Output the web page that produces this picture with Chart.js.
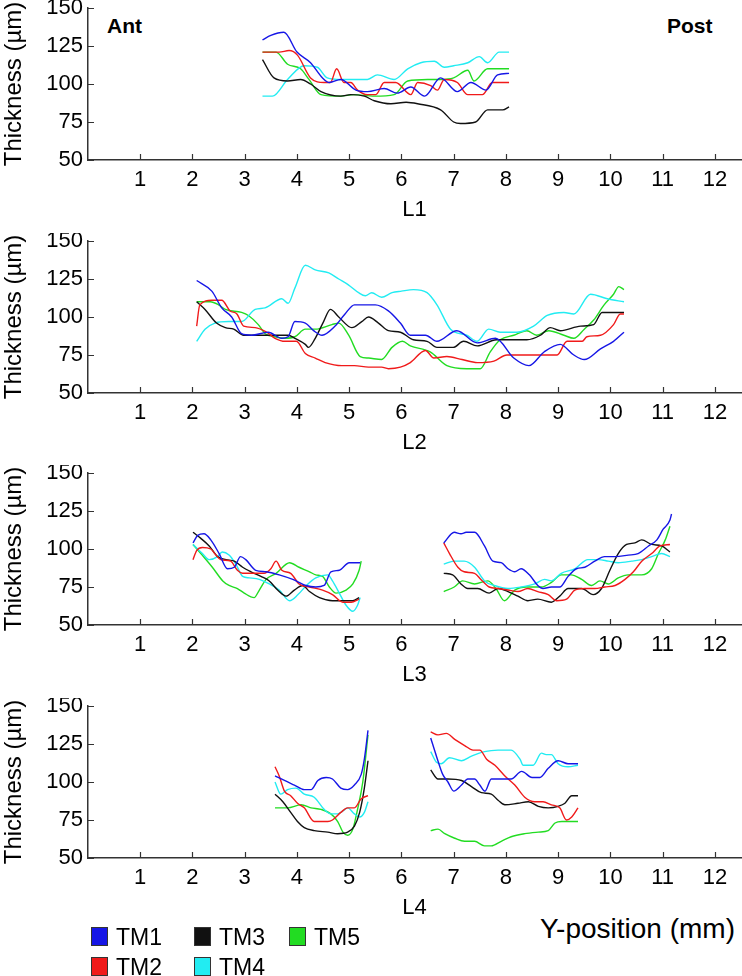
<!DOCTYPE html>
<html>
<head>
<meta charset="utf-8">
<script src="https://cdn.jsdelivr.net/npm/chart.js@4.4.1/dist/chart.umd.min.js"></script>
<style>
  body { margin: 0; background: #fff; font-family: "Liberation Sans", Arial, sans-serif; }
  #wrap { position: relative; width: 742px; height: 976px; overflow: hidden; }
  #wrap canvas { position: absolute; left: 0; }
  .tag { position: absolute; font-weight: bold; font-size: 21px; color: #000; }
  .leg { position: absolute; font-size: 23px; color: #000; line-height: 24px; }
  .leg i { position: absolute; left: 0; top: 2px; width: 15px; height: 17px; border: 1.5px solid #333; }
  .leg span { position: absolute; left: 25px; top: 0; white-space: nowrap; }
  #xtitle { position: absolute; right: 7px; top: 913px; font-size: 28px; color: #000; white-space: nowrap; }
</style>
</head>
<body>
<div id="wrap">
  <div class="tag" style="left:107px;top:14px">Ant</div>
  <div class="tag" style="left:667px;top:14px">Post</div>
  <div id="xtitle">Y-position (mm)</div>
</div>
<script>
const SERIES = ['TM1', 'TM2', 'TM3', 'TM4', 'TM5'];
const COLORS = ['#1616e6', '#f01a1a', '#111111', '#22ecf2', '#22dc22'];
const PANELS = ['L1', 'L2', 'L3', 'L4'];
const X_TICKS = [1, 2, 3, 4, 5, 6, 7, 8, 9, 10, 11, 12];
const Y_TICKS = [50, 75, 100, 125, 150];

// ---- L1 ----
const L1_TM1_x = [3.34, 3.5, 3.75, 4.0, 4.26, 4.49, 4.62, 4.84, 5.13, 5.35, 5.67, 5.92, 6.18, 6.44, 6.75, 7.07, 7.33, 7.62, 7.84, 8.06];
const L1_TM1_y = [129, 132, 134, 121, 114, 104, 101, 103, 96, 95, 97, 94, 98, 92, 104, 95, 101, 96, 106, 107];
const L1_TM2_x = [3.34, 3.66, 3.85, 4.01, 4.26, 4.52, 4.64, 4.76, 4.9, 5.03, 5.16, 5.35, 5.51, 5.67, 5.89, 6.18, 6.31, 6.56, 6.69, 6.82, 7.07, 7.27, 7.55, 7.74, 8.06];
const L1_TM2_y = [121, 121, 122, 119, 104, 101, 101, 110, 101, 101, 96, 93, 93, 101, 101, 93, 101, 99, 96, 103, 101, 93, 93, 101, 101];
const L1_TM3_x = [3.34, 3.56, 3.82, 4.07, 4.26, 4.46, 4.84, 5.03, 5.29, 5.48, 5.8, 6.09, 6.31, 6.75, 7.0, 7.13, 7.42, 7.65, 7.94, 8.06];
const L1_TM3_y = [116, 104, 102, 103, 100, 95, 92, 93, 92, 89, 87, 88, 87, 83, 75, 74, 75, 83, 83, 85];
const L1_TM4_x = [3.34, 3.53, 3.82, 4.14, 4.39, 4.58, 4.84, 5.35, 5.54, 5.86, 6.12, 6.37, 6.63, 6.82, 7.0, 7.27, 7.49, 7.65, 7.87, 8.06];
const L1_TM4_y = [92, 92, 103, 112, 111, 104, 103, 103, 106, 103, 110, 114, 115, 111, 112, 114, 118, 114, 121, 121];
const L1_TM5_x = [3.34, 3.6, 3.82, 4.07, 4.23, 4.46, 4.84, 5.09, 5.48, 5.86, 6.12, 6.5, 6.75, 7.0, 7.27, 7.39, 7.65, 8.06];
const L1_TM5_y = [121, 121, 113, 110, 103, 93, 92, 93, 92, 93, 102, 103, 103, 104, 109, 102, 110, 110];

// ---- L2 ----
const L2_TM1_x = [2.08, 2.37, 2.56, 2.75, 2.94, 3.13, 3.45, 3.71, 3.83, 3.96, 4.16, 4.32, 4.48, 4.73, 4.92, 5.1, 5.5, 5.75, 5.98, 6.17, 6.46, 6.68, 7.06, 7.45, 7.8, 8.15, 8.44, 8.73, 9.04, 9.3, 9.5, 9.81, 10.06, 10.26];
const L2_TM1_y = [124, 117, 106, 100, 89, 88, 90, 86, 87, 97, 96, 91, 88, 94, 102, 108, 108, 104, 96, 88, 88, 84, 91, 83, 86, 73, 68, 77, 82, 75, 72, 79, 84, 90];
const L2_TM2_x = [2.08, 2.14, 2.37, 2.56, 2.72, 2.85, 2.98, 3.2, 3.42, 3.58, 3.77, 3.99, 4.16, 4.35, 4.54, 4.86, 5.1, 5.37, 5.62, 5.75, 5.98, 6.17, 6.46, 6.62, 6.87, 7.16, 7.45, 7.77, 8.02, 8.34, 8.66, 8.98, 9.17, 9.46, 9.55, 9.81, 10.06, 10.19, 10.26];
const L2_TM2_y = [94, 108, 111, 111, 104, 102, 94, 93, 90, 86, 84, 84, 76, 73, 70, 68, 68, 67, 67, 66, 67, 70, 78, 73, 74, 72, 70, 71, 75, 75, 75, 75, 84, 84, 87, 88, 95, 102, 102];
const L2_TM3_x = [2.08, 2.24, 2.46, 2.63, 2.79, 2.98, 3.2, 3.52, 3.83, 3.96, 4.16, 4.22, 4.35, 4.51, 4.64, 4.8, 5.05, 5.24, 5.37, 5.56, 5.75, 5.98, 6.23, 6.49, 6.68, 6.99, 7.19, 7.45, 7.82, 8.07, 8.4, 8.66, 8.85, 9.04, 9.43, 9.68, 9.84, 10.26];
const L2_TM3_y = [110, 105, 96, 93, 92, 88, 88, 88, 88, 86, 82, 80, 86, 97, 105, 100, 93, 97, 100, 96, 91, 90, 85, 84, 80, 80, 84, 81, 85, 85, 85, 88, 93, 91, 94, 95, 103, 103];
const L2_TM4_x = [2.08, 2.24, 2.43, 2.69, 2.94, 3.2, 3.39, 3.71, 3.83, 3.96, 4.16, 4.35, 4.61, 4.8, 4.99, 5.18, 5.31, 5.43, 5.62, 5.82, 6.0, 6.23, 6.49, 6.68, 6.94, 7.25, 7.45, 7.67, 7.89, 8.21, 8.53, 8.79, 9.11, 9.3, 9.62, 9.94, 10.26];
const L2_TM4_y = [84, 92, 96, 97, 97, 105, 106, 112, 109, 119, 134, 131, 129, 125, 121, 116, 114, 116, 113, 116, 117, 118, 116, 108, 92, 88, 84, 92, 90, 90, 94, 101, 103, 102, 115, 112, 110];
const L2_TM5_x = [2.08, 2.34, 2.5, 2.63, 2.94, 3.07, 3.26, 3.39, 3.58, 3.77, 3.96, 4.16, 4.35, 4.67, 4.8, 4.99, 5.21, 5.37, 5.62, 5.82, 6.02, 6.17, 6.55, 6.87, 7.25, 7.51, 7.7, 7.89, 8.15, 8.4, 8.59, 8.82, 9.11, 9.3, 9.5, 9.68, 9.88, 10.06, 10.16, 10.26];
const L2_TM5_y = [110, 110, 108, 105, 103, 101, 95, 89, 87, 86, 87, 92, 92, 95, 96, 88, 74, 73, 72, 80, 84, 81, 77, 68, 66, 66, 77, 85, 88, 91, 88, 91, 88, 86, 92, 98, 108, 115, 120, 118];

// ---- L3 (two segments, null = gap) ----
const L3_TM1_x = [2.01, 2.1, 2.22, 2.35, 2.51, 2.67, 2.8, 2.92, 3.02, 3.21, 3.41, 3.66, 3.92, 4.17, 4.36, 4.52, 4.65, 4.81, 5.0, 5.21, 6.0, 6.81, 7.01, 7.14, 7.24, 7.4, 7.59, 7.75, 7.91, 8.04, 8.17, 8.29, 8.45, 8.61, 8.71, 8.87, 9.03, 9.19, 9.35, 9.51, 9.7, 9.89, 10.09, 10.34, 10.53, 10.73, 10.89, 11.01, 11.14, 11.17];
const L3_TM1_y = [104, 109, 110, 106, 97, 87, 88, 95, 93, 86, 85, 83, 80, 76, 75, 76, 85, 86, 91, 91, null, 104, 111, 110, 111, 111, 102, 92, 91, 87, 85, 87, 83, 76, 74, 75, 75, 82, 87, 88, 92, 95, 95, 96, 97, 102, 106, 113, 119, 123];
const L3_TM2_x = [2.01, 2.08, 2.19, 2.35, 2.45, 2.54, 2.73, 2.86, 2.96, 3.21, 3.37, 3.5, 3.6, 3.71, 3.88, 4.04, 4.24, 4.49, 4.68, 4.88, 5.04, 5.19, 6.0, 6.81, 6.92, 7.08, 7.2, 7.4, 7.52, 7.68, 7.85, 8.04, 8.23, 8.42, 8.61, 8.81, 8.97, 9.16, 9.32, 9.51, 9.7, 9.89, 10.09, 10.28, 10.44, 10.6, 10.79, 10.95, 11.14];
const L3_TM2_y = [93, 99, 101, 100, 96, 93, 92, 86, 84, 84, 84, 87, 92, 86, 84, 77, 75, 73, 70, 65, 65, 67, null, 104, 97, 88, 85, 84, 80, 75, 74, 73, 72, 74, 72, 70, 66, 67, 73, 74, 74, 75, 76, 80, 85, 92, 97, 102, 103];
const L3_TM3_x = [2.01, 2.16, 2.32, 2.48, 2.64, 2.8, 2.96, 3.12, 3.31, 3.47, 3.63, 3.79, 3.95, 4.11, 4.24, 4.43, 4.68, 4.94, 5.07, 5.19, 6.0, 6.81, 6.98, 7.14, 7.27, 7.46, 7.68, 7.85, 8.04, 8.23, 8.42, 8.61, 8.87, 9.03, 9.19, 9.45, 9.67, 9.83, 9.99, 10.15, 10.31, 10.47, 10.6, 10.79, 10.98, 11.14];
const L3_TM3_y = [111, 107, 102, 95, 93, 92, 88, 85, 82, 79, 73, 69, 73, 76, 72, 68, 66, 66, 66, 68, null, 84, 83, 77, 74, 74, 71, 74, 72, 69, 66, 67, 65, 69, 74, 74, 70, 74, 86, 97, 103, 104, 106, 103, 102, 98];
const L3_TM4_x = [2.01, 2.19, 2.32, 2.48, 2.57, 2.7, 2.83, 2.96, 3.09, 3.28, 3.47, 3.66, 3.86, 4.02, 4.18, 4.36, 4.59, 4.68, 4.81, 4.94, 5.07, 5.16, 5.21, 6.0, 6.81, 7.01, 7.2, 7.4, 7.59, 7.78, 8.04, 8.29, 8.55, 8.74, 8.87, 9.06, 9.32, 9.57, 9.77, 9.96, 10.15, 10.41, 10.6, 10.79, 10.98, 11.14];
const L3_TM4_y = [103, 97, 93, 95, 98, 96, 90, 82, 81, 80, 77, 73, 66, 70, 76, 81, 83, 79, 71, 63, 59, 63, 68, null, 90, 92, 92, 88, 79, 76, 74, 75, 77, 80, 79, 84, 87, 93, 93, 92, 91, 92, 93, 95, 97, 95];
const L3_TM5_x = [2.01, 2.16, 2.38, 2.58, 2.7, 2.86, 2.99, 3.18, 3.28, 3.41, 3.6, 3.86, 4.04, 4.24, 4.36, 4.49, 4.62, 4.75, 4.94, 5.07, 5.19, 5.23, 6.0, 6.81, 7.01, 7.17, 7.4, 7.65, 7.81, 7.97, 8.17, 8.39, 8.68, 8.87, 9.06, 9.25, 9.45, 9.64, 9.8, 9.96, 10.15, 10.34, 10.6, 10.79, 10.92, 11.05, 11.14];
const L3_TM5_y = [103, 97, 88, 79, 76, 74, 71, 68, 73, 80, 84, 91, 88, 85, 83, 82, 75, 71, 73, 77, 86, 92, null, 72, 75, 79, 77, 79, 74, 66, 73, 75, 75, 78, 83, 83, 80, 76, 79, 77, 81, 83, 83, 87, 97, 106, 115];

// ---- L4 (two segments, null = gap) ----
const L4_TM1_x = [3.58, 3.76, 3.95, 4.14, 4.27, 4.4, 4.56, 4.68, 4.84, 4.97, 5.1, 5.23, 5.29, 5.36, 6.0, 6.56, 6.67, 6.79, 6.89, 7.0, 7.15, 7.27, 7.4, 7.5, 7.6, 7.72, 7.91, 8.1, 8.3, 8.5, 8.65, 8.81, 9.0, 9.19, 9.38];
const L4_TM1_y = [104, 101, 98, 95, 95, 101, 103, 102, 96, 95, 98, 105, 115, 134, null, 129, 117, 105, 100, 94, 98, 102, 102, 98, 94, 102, 102, 102, 107, 103, 103, 109, 114, 112, 112];
const L4_TM2_x = [3.58, 3.66, 3.76, 3.88, 4.01, 4.14, 4.33, 4.59, 4.68, 4.84, 4.97, 5.1, 5.23, 5.36, 6.0, 6.56, 6.7, 6.86, 7.02, 7.21, 7.37, 7.5, 7.63, 7.79, 7.98, 8.17, 8.36, 8.55, 8.71, 8.87, 9.03, 9.16, 9.26, 9.38];
const L4_TM2_y = [110, 104, 94, 91, 86, 83, 74, 74, 75, 80, 83, 83, 89, 91, null, 133, 131, 132, 128, 124, 121, 121, 115, 111, 104, 98, 90, 87, 87, 85, 83, 75, 77, 83];
const L4_TM3_x = [3.58, 3.73, 3.88, 4.01, 4.14, 4.33, 4.59, 4.78, 4.97, 5.1, 5.2, 5.29, 5.36, 6.0, 6.56, 6.7, 6.89, 7.15, 7.34, 7.53, 7.72, 7.85, 7.98, 8.23, 8.43, 8.62, 8.81, 9.0, 9.13, 9.26, 9.38];
const L4_TM3_y = [92, 87, 80, 74, 70, 68, 67, 66, 67, 71, 80, 96, 114, null, 108, 102, 102, 101, 97, 93, 92, 88, 85, 86, 87, 84, 83, 84, 86, 91, 91];
const L4_TM4_x = [3.58, 3.69, 3.82, 3.98, 4.14, 4.33, 4.52, 4.65, 4.78, 4.88, 4.97, 5.1, 5.2, 5.29, 5.36, 6.0, 6.56, 6.67, 6.76, 6.92, 7.15, 7.34, 7.59, 7.85, 8.1, 8.27, 8.33, 8.52, 8.68, 8.77, 8.87, 9.0, 9.19, 9.38];
const L4_TM4_y = [100, 92, 95, 96, 92, 90, 82, 79, 79, 81, 83, 79, 77, 80, 87, null, 120, 113, 112, 116, 114, 117, 120, 121, 121, 115, 111, 111, 119, 118, 118, 112, 110, 111];
const L4_TM5_x = [3.58, 3.82, 4.08, 4.27, 4.46, 4.65, 4.78, 4.88, 4.97, 5.07, 5.16, 5.26, 5.36, 6.0, 6.56, 6.7, 6.83, 7.02, 7.21, 7.4, 7.59, 7.72, 7.91, 8.1, 8.36, 8.62, 8.81, 8.94, 9.07, 9.38];
const L4_TM5_y = [83, 83, 85, 83, 82, 79, 74, 67, 65, 69, 82, 100, 131, null, 68, 69, 66, 63, 61, 61, 58, 58, 61, 64, 66, 67, 68, 73, 74, 74];

const PANEL_DATA = [
  [[L1_TM1_x, L1_TM1_y], [L1_TM2_x, L1_TM2_y], [L1_TM3_x, L1_TM3_y], [L1_TM4_x, L1_TM4_y], [L1_TM5_x, L1_TM5_y]],
  [[L2_TM1_x, L2_TM1_y], [L2_TM2_x, L2_TM2_y], [L2_TM3_x, L2_TM3_y], [L2_TM4_x, L2_TM4_y], [L2_TM5_x, L2_TM5_y]],
  [[L3_TM1_x, L3_TM1_y], [L3_TM2_x, L3_TM2_y], [L3_TM3_x, L3_TM3_y], [L3_TM4_x, L3_TM4_y], [L3_TM5_x, L3_TM5_y]],
  [[L4_TM1_x, L4_TM1_y], [L4_TM2_x, L4_TM2_y], [L4_TM3_x, L4_TM3_y], [L4_TM4_x, L4_TM4_y], [L4_TM5_x, L4_TM5_y]]
];

const AXIS_COLOR = '#333';
const FONT = '"Liberation Sans", Arial, sans-serif';
const panelTops = [0, 233, 465, 698];

// small tick marks pointing into the plot, like the original figure
const inwardTicks = {
  id: 'inwardTicks',
  afterDraw(chart) {
    const { ctx, chartArea: a, scales: { x, y } } = chart;
    ctx.save();
    ctx.strokeStyle = AXIS_COLOR;
    ctx.lineWidth = 1.2;
    ctx.beginPath();
    x.ticks.forEach(t => {
      const px = Math.round(x.getPixelForValue(t.value)) + 0.5;
      ctx.moveTo(px, a.bottom);
      ctx.lineTo(px, a.bottom - 6);
    });
    y.ticks.forEach(t => {
      const py = Math.round(y.getPixelForValue(t.value)) + 0.5;
      ctx.moveTo(a.left, py);
      ctx.lineTo(a.left + 6, py);
    });
    ctx.stroke();
    ctx.restore();
  }
};

const wrap = document.getElementById('wrap');

PANELS.forEach((name, p) => {
  const canvas = document.createElement('canvas');
  canvas.width = 742;
  canvas.height = 232;
  canvas.style.top = panelTops[p] + 'px';
  wrap.appendChild(canvas);

  const datasets = SERIES.map((s, i) => {
    const [xs, ys] = PANEL_DATA[p][i];
    return {
      label: s,
      data: xs.map((v, k) => ({ x: v, y: ys[k] })),
      borderColor: COLORS[i],
      backgroundColor: COLORS[i],
      borderWidth: 1.4,
      pointRadius: 0,
      cubicInterpolationMode: 'monotone',
      spanGaps: false,
      fill: false
    };
  });

  new Chart(canvas, {
    type: 'line',
    data: { datasets },
    options: {
      responsive: false,
      animation: false,
      devicePixelRatio: 1,
      layout: { padding: { top: 8, right: 1, left: 0, bottom: 0 } },
      plugins: { legend: { display: false }, tooltip: { enabled: false } },
      scales: {
        x: {
          type: 'linear',
          min: 0,
          max: 12.5,
          grid: { drawOnChartArea: false, drawTicks: false },
          border: { display: true, color: AXIS_COLOR, width: 1.5 },
          afterBuildTicks: s => { s.ticks = X_TICKS.map(v => ({ value: v })); },
          afterFit: s => { s.height = 72; s.paddingLeft = 0; s.paddingRight = 0; },
          ticks: { padding: 7, color: '#000', font: { family: FONT, size: 22 }, maxRotation: 0, autoSkip: false },
          title: { display: true, text: name, color: '#000', font: { family: FONT, size: 22 }, padding: { top: 0, bottom: 9 } }
        },
        y: {
          min: 50,
          max: 150,
          grid: { drawOnChartArea: false, drawTicks: false },
          border: { display: true, color: AXIS_COLOR, width: 1.5 },
          afterBuildTicks: s => { s.ticks = Y_TICKS.map(v => ({ value: v })); },
          afterFit: s => { s.width = 88; s.paddingTop = 0; s.paddingBottom = 0; },
          ticks: { padding: 5, color: '#000', font: { family: FONT, size: 22 } },
          title: { display: true, text: 'Thickness (µm)', color: '#000', font: { family: FONT, size: 24 }, padding: { top: 0, bottom: 0 } }
        }
      }
    },
    plugins: [inwardTicks]
  });
});

// legend: three columns, filled column by column
const LEGEND_LEFT = [91, 194, 289];
const LEGEND_TOP = [925, 955];
SERIES.forEach((s, i) => {
  const col = Math.floor(i / 2), row = i % 2;
  const d = document.createElement('div');
  d.className = 'leg';
  d.style.left = LEGEND_LEFT[col] + 'px';
  d.style.top = LEGEND_TOP[row] + 'px';
  d.innerHTML = '<i style="background:' + COLORS[i] + '"></i><span>' + s + '</span>';
  wrap.appendChild(d);
});
</script>
</body>
</html>
